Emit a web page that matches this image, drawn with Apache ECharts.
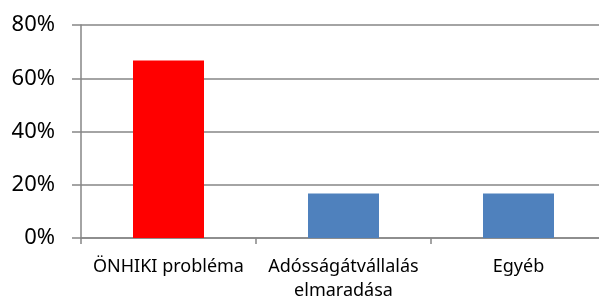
<!DOCTYPE html>
<html>
<head>
<meta charset="utf-8">
<script src="https://cdn.jsdelivr.net/npm/echarts@6/dist/echarts.min.js"></script>
<style>
  html, body { margin: 0; padding: 0; background: #fff; }
  #chart { width: 599px; height: 298px; }
</style>
</head>
<body>
<div id="chart"></div>
<script>
var categories = ["ÖNHIKI probléma", "Adósságátvállalás\nelmaradása", "Egyéb"];
var values = [66.7, 16.7, 16.7];
var barColors = ["#ff0000", "#4f81bd", "#4f81bd"];

var chart = echarts.init(document.getElementById("chart"));

var option = {
  animation: false,
  grid: { left: 81, width: 525, top: 25, height: 213, outerBoundsMode: "none", containLabel: false },
  xAxis: {
    type: "category",
    data: categories,
    axisLine: { lineStyle: { color: "#868686", width: 1.5 } },
    axisTick: { show: true, length: 6, lineStyle: { color: "#868686", width: 1.5 } },
    axisLabel: {
      color: "#000",
      fontFamily: "Noto Sans",
      fontSize: 18,
      lineHeight: 24,
      margin: 17,
      interval: 0
    }
  },
  yAxis: {
    type: "value",
    min: 0,
    max: 80,
    interval: 20,
    axisLine: { show: true, lineStyle: { color: "#868686", width: 1.5 } },
    axisTick: { show: true, length: 9, lineStyle: { color: "#868686", width: 1.5 } },
    splitLine: { show: true, lineStyle: { color: "#868686", width: 1.5 } },
    axisLabel: {
      color: "#000",
      fontFamily: "Noto Sans",
      fontSize: 22,
      margin: 26,
      formatter: "{value}%"
    }
  },
  series: [{
    type: "bar",
    barWidth: 71,
    data: values.map(function (v, i) {
      return { value: v, itemStyle: { color: barColors[i] } };
    })
  }]
};

chart.setOption(option);
</script>
</body>
</html>
